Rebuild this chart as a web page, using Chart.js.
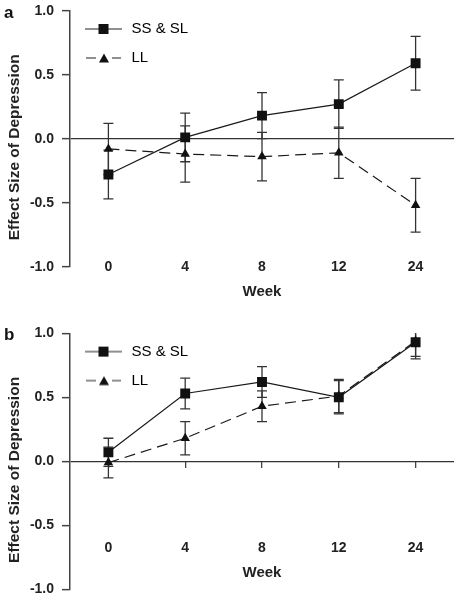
<!DOCTYPE html>
<html>
<head>
<meta charset="utf-8">
<script src="https://cdn.jsdelivr.net/npm/chart.js@4"></script>
<style>
  body { margin: 0; background: #fff; width: 461px; height: 599px; position: relative; overflow: hidden;
         font-family: "Liberation Sans", Arial, sans-serif; }
  canvas { position: absolute; left: 0; }
  #chartA { top: 0; }
  #chartB { top: 300px; }
  .tag { position: absolute; left: 4px; font-size: 17px; font-weight: bold; line-height: 17px; color: #111; }
</style>
</head>
<body>
<canvas id="chartA" width="461" height="300"></canvas>
<canvas id="chartB" width="461" height="299"></canvas>
<div class="tag" style="top:4px">a</div>
<div class="tag" style="top:326px">b</div>
<script>
// data
const weeks = ['0', '4', '8', '12', '24'];
const yTicks = [-1.0, -0.5, 0.0, 0.5, 1.0];
const seriesNames = ['SS & SL', 'LL'];

// panel a
const ssA = [-0.28, 0.01, 0.18, 0.27, 0.59];
const ssAErr = [0.19, 0.19, 0.18, 0.19, 0.21];
const llA = [-0.08, -0.12, -0.14, -0.11, -0.52];
const llAErr = [0.20, 0.22, 0.19, 0.20, 0.21];

// panel b
const ssB = [0.07, 0.53, 0.62, 0.50, 0.93];
const ssBErr = [0.11, 0.12, 0.12, 0.13, 0.13];
const llB = [-0.01, 0.18, 0.43, 0.51, 0.94];
const llBErr = [0.12, 0.13, 0.12, 0.13, 0.12];

Chart.defaults.font.family = '"Liberation Sans", Arial, sans-serif';
Chart.defaults.color = '#222';

// little legend pictures: line with the marker in the middle
function makeIcon(dashed) {
    const c = document.createElement('canvas');
    c.width = 40; c.height = 14;
    const g = c.getContext('2d');
    g.strokeStyle = '#222';
    g.fillStyle = '#111';
    g.lineWidth = 1.2;
    g.beginPath();
    if (dashed) {
        g.moveTo(2, 7); g.lineTo(12, 7);
        g.moveTo(28, 7); g.lineTo(37, 7);
    } else {
        g.moveTo(1, 7); g.lineTo(38, 7);
    }
    g.stroke();
    if (dashed) {
        g.beginPath();
        g.moveTo(20, 2.5); g.lineTo(25, 11.5); g.lineTo(15, 11.5);
        g.closePath(); g.fill();
    } else {
        g.fillRect(14.5, 2, 10, 10);
    }
    return c;
}
const icons = [makeIcon(false), makeIcon(true)];

const errorBars = {
    id: 'errorBars',
    beforeDatasetsDraw(chart) {
        const {ctx, chartArea} = chart;
        const ys = chart.scales.y;
        ctx.save();
        ctx.beginPath();
        ctx.rect(chartArea.left, chartArea.top, chartArea.width, chartArea.height);
        ctx.clip();
        ctx.strokeStyle = '#333';
        ctx.lineWidth = 1.3;
        chart.data.datasets.forEach((ds, i) => {
            chart.getDatasetMeta(i).data.forEach((pt, j) => {
                const x = pt.x;
                const top = ys.getPixelForValue(ds.data[j] + ds.errors[j]);
                const bot = ys.getPixelForValue(ds.data[j] - ds.errors[j]);
                ctx.beginPath();
                ctx.moveTo(x, top); ctx.lineTo(x, bot);
                ctx.moveTo(x - 5, top); ctx.lineTo(x + 5, top);
                ctx.moveTo(x - 5, bot); ctx.lineTo(x + 5, bot);
                ctx.stroke();
            });
        });
        ctx.restore();
    }
};

// legend sits in the upper left of the plot
const legendPlace = {
    id: 'legendPlace',
    afterLayout(chart) { chart.legend.top = chart.chartArea.top - 3.2; }
};

function makeChart(id, ss, ssErr, ll, llErr, weekAt, zeroTicks, pad) {
    new Chart(document.getElementById(id), {
        type: 'line',
        data: {
            labels: weeks,
            datasets: [{
                label: seriesNames[0],
                data: ss,
                errors: ssErr,
                borderColor: '#1a1a1a',
                borderWidth: 1.2,
                pointStyle: 'rect',
                pointRadius: 7,
                pointBackgroundColor: '#111',
                pointBorderColor: '#111',
                pointBorderWidth: 0
            }, {
                label: seriesNames[1],
                data: ll,
                errors: llErr,
                borderColor: '#1a1a1a',
                borderWidth: 1.2,
                borderDash: [11, 6],
                pointStyle: 'triangle',
                pointRadius: 5.5,
                pointBackgroundColor: '#111',
                pointBorderColor: '#111',
                pointBorderWidth: 0
            }]
        },
        options: {
            responsive: false,
            animation: false,
            devicePixelRatio: 1,
            layout: { padding: { left: 0, right: 5.5, top: pad.top, bottom: pad.bottom } },
            plugins: {
                tooltip: { enabled: false },
                legend: {
                    position: 'chartArea',
                    align: 'start',
                    labels: {
                        usePointStyle: true,
                        pointStyleWidth: 40,
                        padding: 14,
                        font: { size: 15 },
                        color: '#222',
                        generateLabels: () => seriesNames.map((n, i) => ({
                            text: n, pointStyle: icons[i], datasetIndex: i,
                            fillStyle: '#111', strokeStyle: '#111', lineWidth: 0
                        }))
                    }
                }
            },
            scales: {
                x: {
                    type: 'category',
                    display: zeroTicks,
                    offset: true,
                    position: { y: 0 },
                    border: { display: false },
                    grid: { drawOnChartArea: false, drawTicks: true, tickLength: 7, color: '#444', lineWidth: 1.3 },
                    ticks: { display: false }
                },
                x2: {
                    type: 'category',
                    labels: weeks,
                    offset: true,
                    position: { y: weekAt },
                    border: { display: false },
                    grid: { display: false, drawTicks: false },
                    ticks: { font: { size: 14, weight: 'bold' }, color: '#222', padding: 0, maxRotation: 0, autoSkip: false },
                    title: { display: true, text: 'Week', font: { size: 15, weight: 'bold' }, color: '#222', padding: { top: 8, bottom: 0 } }
                },
                y: {
                    min: -1,
                    max: 1,
                    afterFit: s => { s.width = 70; s.paddingTop = 0; s.paddingBottom = 0; },
                    afterBuildTicks: s => { s.ticks = yTicks.map(v => ({ value: v })); },
                    ticks: { callback: v => Number(v).toFixed(1), font: { size: 14, weight: 'bold' }, color: '#222', padding: 8 },
                    border: { display: true, color: '#444', width: 1.5 },
                    grid: {
                        color: c => (c.tick && c.tick.value === 0 ? '#333' : 'rgba(0,0,0,0)'),
                        lineWidth: 1.3,
                        drawTicks: true,
                        tickLength: 8,
                        tickColor: '#444',
                        tickWidth: 1.5
                    },
                    title: {
                        display: true,
                        text: 'Effect Size of Depression    ',
                        font: { size: 15.5, weight: 'bold' },
                        color: '#222',
                        padding: { top: 5, bottom: 0 }
                    }
                }
            }
        },
        plugins: [errorBars, legendPlace]
    });
}

makeChart('chartA', ssA, ssAErr, llA, llAErr, -0.934, false, { top: 10.7, bottom: 33.3 });
makeChart('chartB', ssB, ssBErr, llB, llBErr, -0.609, true, { top: 33.3, bottom: 9.7 });
</script>
</body>
</html>
